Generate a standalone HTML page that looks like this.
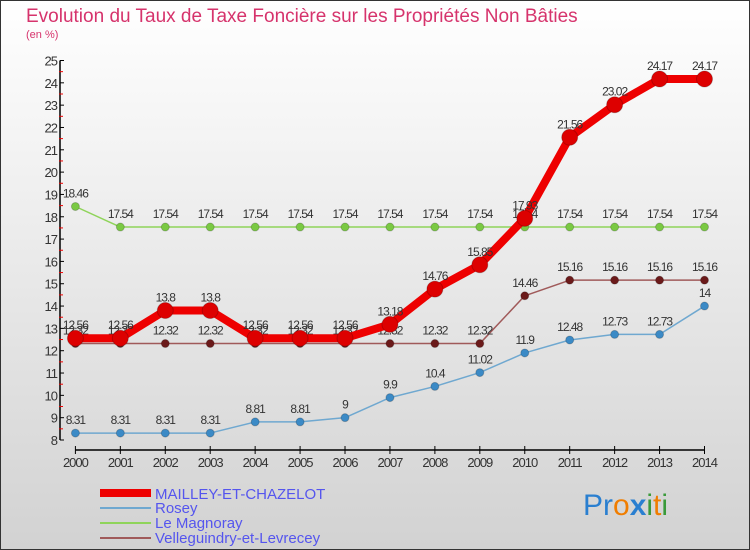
<!DOCTYPE html>
<html><head><meta charset="utf-8"><style>
body{margin:0}
svg{display:block;font-family:"Liberation Sans",sans-serif}
</style></head><body>
<svg id="c" width="750" height="550" viewBox="0 0 750 550">
<defs><linearGradient id="bg" x1="0" y1="0" x2="0" y2="1"><stop offset="0" stop-color="#ffffff"/><stop offset="1" stop-color="#d2d2d2"/></linearGradient></defs>
<rect x="0.5" y="0.5" width="749" height="549" fill="url(#bg)" stroke="#333"/>
<text x="26" y="22" font-size="19" fill="#d6336c">Evolution du Taux de Taxe Foncière sur les Propriétés Non Bâties</text>
<text x="26" y="38" font-size="11" fill="#d6336c">(en %)</text>
<g id="axes"></g><g id="series"></g>
<g>
<rect x="100" y="489" width="51" height="8" fill="#e00"/>
<text x="155" y="499" font-size="15" fill="#5555ee">MAILLEY-ET-CHAZELOT</text>
<rect x="100" y="507" width="51" height="2" fill="#6fa8d0"/>
<text x="155" y="513" font-size="15" fill="#5555ee">Rosey</text>
<rect x="100" y="522" width="51" height="2" fill="#8fd45a"/>
<text x="155" y="528" font-size="15" fill="#5555ee">Le Magnoray</text>
<rect x="100" y="537" width="51" height="2" fill="#a05a5a"/>
<text x="155" y="543" font-size="15" fill="#5555ee">Velleguindry-et-Levrecey</text>
</g>
<g font-size="30" font-family="'Liberation Sans',sans-serif">
<text x="583" y="515"><tspan fill="#2a7fd0">Pr</tspan><tspan fill="#f07d00">o</tspan><tspan fill="#2a7fd0" font-weight="bold">x</tspan><tspan fill="#3a9a3a">i</tspan><tspan fill="#f07d00">t</tspan><tspan fill="#3a9a3a">i</tspan></text>
</g>
</svg>
<script>
const years=[2000,2001,2002,2003,2004,2005,2006,2007,2008,2009,2010,2011,2012,2013,2014];
const mailley=[12.56,12.56,13.8,13.8,12.56,12.56,12.56,13.18,14.76,15.85,17.93,21.56,23.02,24.17,24.17];
const rosey=[8.31,8.31,8.31,8.31,8.81,8.81,9,9.9,10.4,11.02,11.9,12.48,12.73,12.73,14];
const magnoray=[18.46,17.54,17.54,17.54,17.54,17.54,17.54,17.54,17.54,17.54,17.54,17.54,17.54,17.54,17.54];
const velle=[12.32,12.32,12.32,12.32,12.32,12.32,12.32,12.32,12.32,12.32,14.46,15.16,15.16,15.16,15.16];
const yTicks=[8,9,10,11,12,13,14,15,16,17,18,19,20,21,22,23,24,25];
const NS="http://www.w3.org/2000/svg";
const X=i=>75.4+i*(704.5-75.4)/14;
const Y=v=>440-(v-8)*(440-60.5)/17;
function el(t,a,p){const e=document.createElementNS(NS,t);for(const k in a)e.setAttribute(k,a[k]);p.appendChild(e);return e;}
const ax=document.getElementById('axes'),sg=document.getElementById('series');
let yl=el('line',{x1:60,y1:Y(25),x2:60,y2:440,stroke:'#000','stroke-width':1.5},ax);


yTicks.forEach(v=>{
 el('line',{x1:60,y1:Y(v),x2:64,y2:Y(v),stroke:'#000'},ax);
 if(v<25)el('line',{x1:59,y1:Y(v+0.5),x2:63,y2:Y(v+0.5),stroke:'#e00'},ax);
 const t=el('text',{x:57,y:Y(v)+5,'text-anchor':'end','font-size':13,fill:'#333','letter-spacing':'-1'},ax);
 t.textContent=v;
 
 
});
let xl=el('line',{x1:X(0),y1:450,x2:X(14),y2:450,stroke:'#000','stroke-width':1.5},ax);


years.forEach((y,i)=>{
 el('line',{x1:X(i),y1:446,x2:X(i),y2:454,stroke:'#000'},ax);
 const t=el('text',{x:X(i),y:467,'text-anchor':'middle','font-size':13,fill:'#333','letter-spacing':'-1'},ax);
 t.textContent=y;
 
 
});
function series(data,color,dot,w,r,name){
 const g=el('g',{},sg);
 
 
 el('polyline',{points:data.map((v,i)=>X(i)+','+Y(v)).join(' '),fill:'none',stroke:color,'stroke-width':w,'stroke-linejoin':'round'},g);
 data.forEach((v,i)=>{
  const c=el('circle',{cx:X(i),cy:Y(v),r:r,fill:dot,stroke:'#0003'},g);
  
  
  const t=el('text',{x:X(i),y:Y(v)-9,'text-anchor':'middle','font-size':12,fill:'#333','letter-spacing':'-1'},g);
  t.textContent=v;
 });
}
series(magnoray,'#8fd45a','#7ac943',1.5,4,'series-le-magnoray');
series(rosey,'#6fa8d0','#3b8ac6',1.5,4,'series-rosey');
series(velle,'#a05a5a','#6b1a1a',1.5,4,'series-velleguindry');
series(mailley,'#ee0000','#dd0000',8,8,'series-mailley');
</script>
</body></html>
